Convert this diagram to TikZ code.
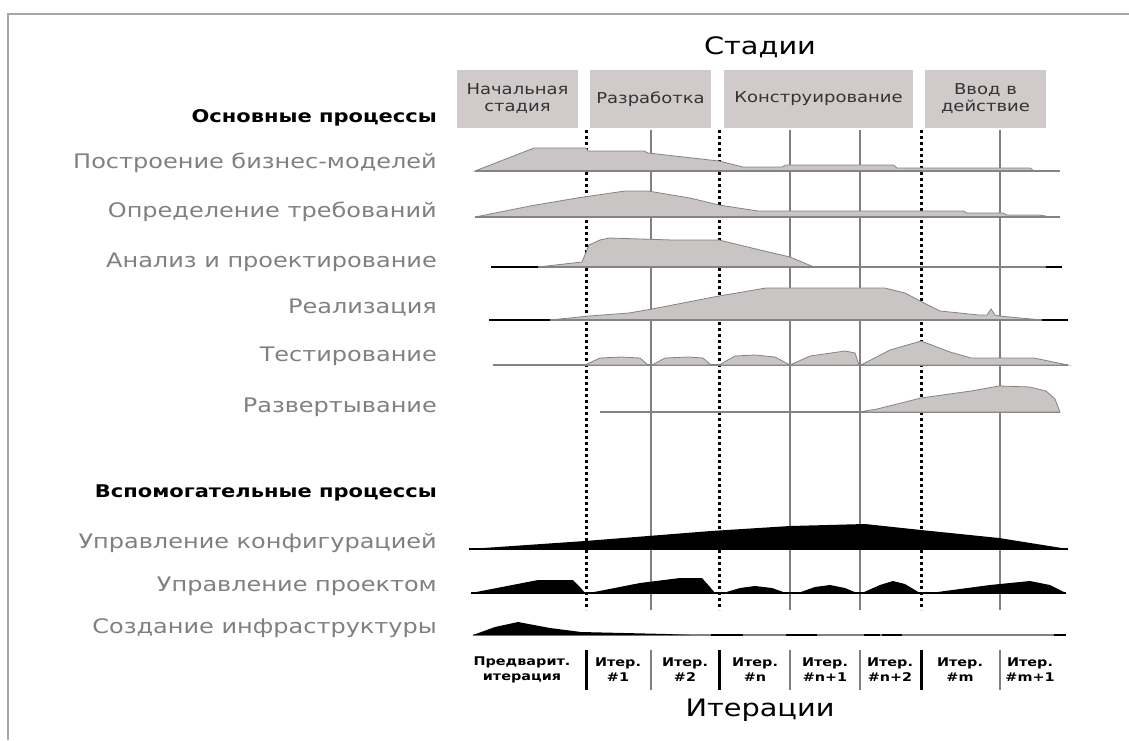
\documentclass[tikz,border=0pt]{standalone}
\usepackage{fontspec}
\setmainfont{DejaVu Sans}[FakeStretch=1.2]
\usepackage{xcolor}
\usepackage{tikz}

\definecolor{procfill}{RGB}{202,197,197}
\definecolor{procline}{RGB}{135,130,130}
\definecolor{boxfill}{RGB}{208,202,202}
\definecolor{labgray}{RGB}{128,128,128}

\tikzset{
  stagebox/.style={fill=boxfill, minimum height=58, inner sep=0pt, align=center,
    text=black!80, font=\fontsize{15}{17}\selectfont},
  proclabel/.style={anchor=east, inner sep=0pt, text=labgray, font=\fontsize{20}{22}\selectfont},
  grouplabel/.style={anchor=east, inner sep=0pt, font=\bfseries\fontsize{17.5}{20}\selectfont},
  itlabel/.style={align=center, inner sep=0pt, font=\bfseries\fontsize{12}{15}\selectfont},
  hump/.style={fill=procfill, draw=procline, line width=0.8},
  stageline/.style={line width=3, dash pattern=on 3pt off 3pt},
  iterline/.style={draw=gray, line width=1.2},
}

\begin{document}
\begin{tikzpicture}[x=1pt, y=-1pt]
\useasboundingbox (0,0) rectangle (1129,740);
\draw[gray!70, line width=2] (8,740) -- (8,14) -- (1129,14);

% stages
\node (stages) at (760,47) {\fontsize{24}{26}\selectfont Стадии};
\node[stagebox, minimum width=121] (inception) at (517.5,99) {Начальная\\стадия};
\node[stagebox, minimum width=121] (elaboration) at (650.5,99) {Разработка};
\node[stagebox, minimum width=189] (construction) at (818.5,99) {Конструирование};
\node[stagebox, minimum width=121] (transition) at (985.5,99) {Ввод в\\действие};

% vertical lines
\foreach \x in {651,790,860,1000}{
	\draw[iterline] (\x,130) -- (\x,610);
	\draw[iterline] (\x,650) -- (\x,690);
}
\foreach \x in {586,719,921}{
	\draw[stageline] (\x,130) -- (\x,610);
	\draw[line width=3] (\x,650) -- (\x,690);
}

% labels
\node[grouplabel] (mainproc) at (437,118) {Основные процессы};
\node[proclabel] (bizmod) at (437,163) {Построение бизнес-моделей};
\node[proclabel] (req) at (437,212) {Определение требований};
\node[proclabel] (design) at (437,262) {Анализ и проектирование};
\node[proclabel] (impl) at (437,308) {Реализация};
\node[proclabel] (test) at (437,356) {Тестирование};
\node[proclabel] (deploy) at (437,407) {Развертывание};
\node[grouplabel] (suppproc) at (437,493) {Вспомогательные процессы};
\node[proclabel] (config) at (437,543) {Управление конфигурацией};
\node[proclabel] (projmgmt) at (437,586) {Управление проектом};
\node[proclabel] (env) at (437,628) {Создание инфраструктуры};

% main processes
\fill[hump] (475,171) -- (534,148) -- (586,148) -- (588,151) -- (644,151) -- (648,153) -- (719,161)
  -- (743,167) -- (782,167) -- (786,165) -- (893,165) -- (897,168) -- (1030,168) -- (1034,171) -- cycle;
\draw[procline, line width=1.2] (475,171) -- (1060,171);

\fill[hump] (475,217) -- (530,206) -- (577,198) -- (625,191) -- (648,191) -- (690,198) -- (719,205)
  -- (758,211) -- (963,211) -- (967,213) -- (1003,213) -- (1007,215) -- (1040,215) -- (1050,217) -- cycle;
\draw[procline, line width=1.2] (475,217) -- (1060,217);

\fill[hump] (538,267) -- (573,263) -- (582,262) -- (589,245) -- (600,240) -- (609,238) -- (672,240)
  -- (719,240) -- (760,250) -- (790,257) -- (814,267) -- cycle;
\draw[procline, line width=1.2] (491,267) -- (1062,267);
\draw[line width=2] (491,267) -- (538,267) (1046,267) -- (1062,267);

\fill[hump] (550,320) -- (589,316) -- (629,313) -- (652,309) -- (719,296) -- (766,288) -- (885,288)
  -- (905,293) -- (924,303) -- (940,311) -- (979,315) -- (987,315) -- (991,309) -- (995,315)
  -- (999,316) -- (1042,320) -- cycle;
\draw[procline, line width=1.2] (489,320) -- (1068,320);
\draw[line width=2] (489,320) -- (550,320) (1042,320) -- (1068,320);

\draw[procline, line width=1.2] (493,365) -- (1068,365);
\fill[hump] (585,365) -- (600,358) -- (621,357) -- (640,358) -- (648,365) -- cycle;
\fill[hump] (652,365) -- (665,358) -- (688,357) -- (703,358) -- (711,365) -- cycle;
\fill[hump] (719,365) -- (735,356) -- (755,355) -- (775,357) -- (790,365) -- cycle;
\fill[hump] (790,365) -- (810,356) -- (845,351) -- (855,353) -- (859,365) -- cycle;
\fill[hump] (861,365) -- (890,350) -- (921,341) -- (950,352) -- (971,358) -- (1034,358) -- (1068,365) -- cycle;

\draw[procline, line width=1.2] (600,412) -- (1060,412);
\fill[hump] (859,412) -- (877,409) -- (921,398) -- (971,391) -- (999,386) -- (1030,387) -- (1046,391)
  -- (1055,399) -- (1060,412) -- cycle;

% supporting processes
\fill (469,549) -- (585,541) -- (648,536) -- (711,531) -- (790,526) -- (865,524) -- (921,530)
  -- (999,538) -- (1068,549) -- cycle;
\draw[line width=1.2] (469,549) -- (1068,549);

\draw[line width=1.2] (471,593) -- (1066,593);
\fill (471,593) -- (538,580) -- (573,580) -- (580,587) -- (585,593) -- cycle;
\fill (589,593) -- (640,583) -- (680,578) -- (702,578) -- (710,587) -- (715,593) -- cycle;
\fill (723,593) -- (740,588) -- (755,586) -- (772,588) -- (786,593) -- cycle;
\fill (798,593) -- (815,587) -- (830,585) -- (845,588) -- (857,593) -- cycle;
\fill (862,593) -- (880,585) -- (893,581) -- (905,584) -- (920,593) -- cycle;
\fill (930,593) -- (990,585) -- (1030,581) -- (1050,585) -- (1066,593) -- cycle;

\draw[gray, line width=1.2] (473,635) -- (1066,635);
\fill (473,635) -- (495,627) -- (518,622) -- (550,628) -- (581,632) -- (667,634) -- (690,635) -- cycle;
\draw[line width=2.4] (711,635) -- (743,635) (786,635) -- (817,635) (864,635) -- (880,635)
  (882,635) -- (902,635) (1054,635) -- (1066,635);

% iterations
\node[itlabel] (prelim) at (522,670) {Предварит.\\итерация};
\node[itlabel] (it1) at (618,670) {Итер.\\\#1};
\node[itlabel] (it2) at (685,670) {Итер.\\\#2};
\node[itlabel] (itn) at (755,670) {Итер.\\\#n};
\node[itlabel] (itn1) at (825,670) {Итер.\\\#n+1};
\node[itlabel] (itn2) at (890,670) {Итер.\\\#n+2};
\node[itlabel] (itm) at (960,670) {Итер.\\\#m};
\node[itlabel] (itm1) at (1030,670) {Итер.\\\#m+1};
\node (iters) at (760,710) {\fontsize{24}{26}\selectfont Итерации};

\end{tikzpicture}
\end{document}
